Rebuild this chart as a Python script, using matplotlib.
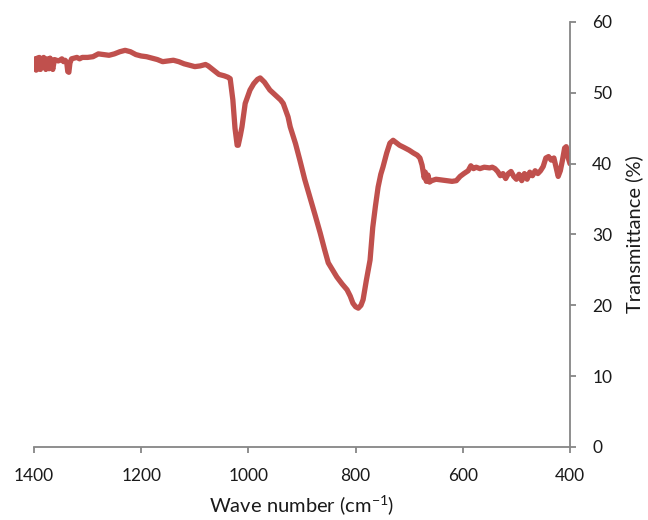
import matplotlib
matplotlib.use("Agg")
import matplotlib.pyplot as plt

# FTIR spectrum
wavenumber = [1400, 1398, 1396, 1394, 1392, 1390, 1388, 1386, 1384, 1382, 1380, 1378,
              1376, 1374, 1372, 1370, 1368, 1365, 1362, 1358, 1355, 1352, 1348, 1345,
              1342, 1339, 1337, 1335, 1333, 1330, 1325, 1320, 1315, 1310, 1300, 1290,
              1280, 1270, 1260, 1250, 1240, 1230, 1220, 1210, 1200, 1190, 1180, 1170,
              1160, 1150, 1140, 1130, 1120, 1110, 1100, 1090, 1080, 1075, 1065, 1055,
              1045, 1038, 1034, 1029, 1025, 1021, 1019, 1015, 1012, 1006, 997, 990,
              983, 978, 970, 960, 950, 940, 935, 926, 922, 912, 904, 895, 885, 875,
              866, 858, 851, 843, 835, 825, 816, 810, 805, 800, 795, 790, 786, 780,
              773, 768, 763, 758, 753, 749, 742, 736, 730, 725, 718, 710, 700, 692,
              685, 680, 676, 672, 670, 668, 665, 662, 658, 650, 640, 630, 620, 612,
              605, 598, 590, 585, 580, 575, 568, 560, 550, 545, 540, 535, 530, 525,
              520, 515, 510, 505, 500, 495, 490, 485, 480, 475, 470, 465, 460, 455,
              450, 445, 440, 435, 430, 426, 422, 418, 414, 410, 407, 404, 400]
transmittance = [53.5, 54.8, 53.2, 54.9, 53.4, 55.0, 53.3, 54.7, 53.6, 55.0, 54.0, 53.3,
                 54.8, 54.5, 53.4, 54.9, 54.3, 53.3, 54.7, 54.6, 54.5, 54.6, 54.8, 54.4,
                 54.6, 54.3, 53.0, 52.9, 54.2, 54.8, 54.9, 55.0, 54.8, 55.0, 55.0, 55.1,
                 55.5, 55.4, 55.3, 55.5, 55.8, 56.0, 55.8, 55.4, 55.2, 55.1, 54.9, 54.7,
                 54.4, 54.5, 54.6, 54.4, 54.1, 53.9, 53.7, 53.8, 54.0, 53.8, 53.2, 52.6,
                 52.4, 52.2, 52.0, 49.0, 45.0, 42.6, 42.6, 44.0, 45.2, 48.5, 50.4, 51.3,
                 51.9, 52.1, 51.5, 50.4, 49.7, 49.0, 48.5, 46.6, 45.2, 42.8, 40.5, 37.8,
                 35.2, 32.6, 30.2, 27.9, 26.0, 25.0, 24.0, 23.0, 22.2, 21.3, 20.3, 19.8,
                 19.6, 20.0, 20.8, 23.5, 26.4, 31.0, 34.0, 36.7, 38.5, 39.5, 41.5, 42.9,
                 43.3, 43.0, 42.6, 42.3, 41.9, 41.5, 41.2, 40.8, 39.8, 38.0, 38.8, 37.5,
                 38.4, 37.4, 37.6, 37.8, 37.7, 37.6, 37.5, 37.6, 38.2, 38.6, 39.0, 39.7,
                 39.3, 39.5, 39.3, 39.5, 39.4, 39.5, 39.3, 38.9, 38.3, 38.6, 37.9, 38.6,
                 38.9, 38.2, 37.8, 38.5, 37.6, 38.6, 37.8, 38.8, 38.3, 39.0, 38.6, 39.0,
                 39.6, 40.8, 41.0, 40.5, 40.8, 39.5, 38.2, 39.0, 40.5, 42.2, 42.4, 41.0,
                 40.0]

x_ticks = [1400, 1200, 1000, 800, 600, 400]
y_ticks = [0, 10, 20, 30, 40, 50, 60]

LINE = "#C0504D"
AXIS = "#868686"

plt.rcParams["font.family"] = ["Lato", "DejaVu Sans"]
plt.rcParams["mathtext.default"] = "regular"

fig = plt.figure(figsize=(6.48, 5.2), dpi=100)
ax = fig.add_axes([0.0525, 0.1404, 0.8271, 0.8173])

ax.plot(wavenumber, transmittance, color=LINE, lw=3.8, solid_joinstyle="round",
        solid_capstyle="round")

ax.set_xlim(1400, 400)
ax.set_ylim(0, 60)
ax.set_xticks(x_ticks)
ax.set_yticks(y_ticks)

ax.spines["top"].set_visible(False)
ax.spines["left"].set_visible(False)
for s in ("bottom", "right"):
    ax.spines[s].set_color(AXIS)
    ax.spines[s].set_linewidth(1.3)

ax.yaxis.tick_right()
ax.yaxis.set_label_position("right")
ax.tick_params(axis="both", direction="out", length=4, width=1.3, color=AXIS,
               labelsize=12.5, labelcolor="#1a1a1a")
ax.tick_params(axis="x", pad=11)
ax.tick_params(axis="y", pad=12)

ax.set_xlabel("Wave number (cm$^{-1}$)", fontsize=14.5, color="#1a1a1a", labelpad=7)
ax.set_ylabel("Transmittance (%)", fontsize=14.5, color="#1a1a1a", labelpad=9)

fig.savefig("out.png", dpi=100, facecolor="white")
